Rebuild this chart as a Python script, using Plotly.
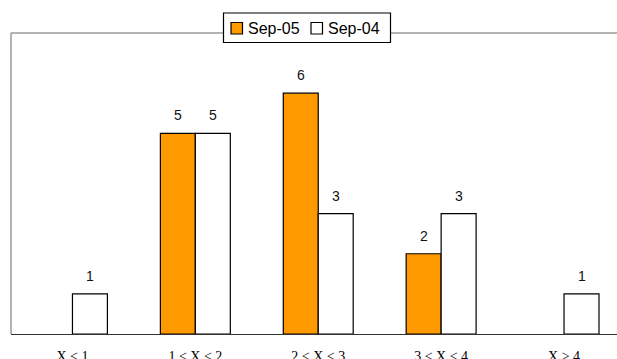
import plotly.graph_objects as go

categories = ["X < 1", "1 < X < 2", "2 < X < 3", "3 < X < 4", "X > 4"]
sep05 = [0, 5, 6, 2, 0]
sep04 = [1, 5, 3, 3, 1]
series_names = ["Sep-05", "Sep-04"]

ORANGE = "#FF9900"
FRAME = "#9a9a9a"
W, H = 617, 359
ML, MT, MB = 11, 33, 25
PW, PH = W - ML, H - MT - MB


def px(x):
    """page pixel x -> paper fraction"""
    return (x - ML) / PW


def py(y):
    """page pixel y -> paper fraction"""
    return (H - MB - y) / PH


series = [(series_names[0], sep05, ORANGE), (series_names[1], sep04, "white")]

fig = go.Figure()
for name, vals, color in series:
    fig.add_trace(go.Bar(
        name=name, x=categories, y=[v if v else None for v in vals],
        marker=dict(color=color, line=dict(color="black", width=1.2)),
        showlegend=False,
    ))

# value labels above each non-zero bar
offsets = {series_names[0]: -0.1423, series_names[1]: 0.1423}
annotations = []
for name, vals, _ in series:
    for i, v in enumerate(vals):
        if v:
            annotations.append(dict(
                x=i + offsets[name], y=v, xref="x", yref="y",
                text=str(v), showarrow=False, yanchor="bottom", yshift=8,
                font=dict(family="Arial, Liberation Sans", size=14, color="#111"),
            ))

shapes = [
    dict(type="line", xref="paper", yref="paper", x0=0, x1=1, y0=1, y1=1,
         line=dict(color=FRAME, width=1.5)),
    dict(type="line", xref="paper", yref="paper", x0=0, x1=0, y0=0, y1=1,
         line=dict(color=FRAME, width=1.5)),
    # legend box sitting on the top frame line
    dict(type="rect", xref="paper", yref="paper",
         x0=px(223.5), x1=px(390.5), y0=py(42.5), y1=py(13),
         fillcolor="white", line=dict(color="black", width=1.2), layer="above"),
]

# legend entries: swatch + label
legend_x = [231, 311]
for (name, _, color), lx in zip(series, legend_x):
    shapes.append(dict(type="rect", xref="paper", yref="paper",
                       x0=px(lx), x1=px(lx + 11.5), y0=py(34), y1=py(22.5),
                       fillcolor=color, line=dict(color="black", width=1.2),
                       layer="above"))
    annotations.append(dict(
        x=px(lx + 15), y=py(28), xref="paper", yref="paper",
        text=name, showarrow=False, xanchor="left", yanchor="middle",
        font=dict(family="Arial, Liberation Sans", size=16, color="black"),
    ))

fig.update_layout(
    width=W, height=H,
    margin=dict(l=ML, r=0, t=MT, b=MB, pad=0),
    paper_bgcolor="white", plot_bgcolor="white",
    barmode="group", bargap=0.431, bargroupgap=0,
    showlegend=False,
    xaxis=dict(
        range=[-0.5, 4.431], showgrid=False, zeroline=False, automargin=False,
        showline=True, linecolor="#333", linewidth=1.2,
        ticks="outside", ticklen=9, tickcolor="rgba(0,0,0,0)",
        tickfont=dict(family="Liberation Serif, Times New Roman, serif", size=14, color="black"),
    ),
    yaxis=dict(range=[0, 7.5], showgrid=False, zeroline=False, showline=False,
               showticklabels=False, ticks="", automargin=False),
    annotations=annotations,
    shapes=shapes,
)

fig.write_html("out.html")
